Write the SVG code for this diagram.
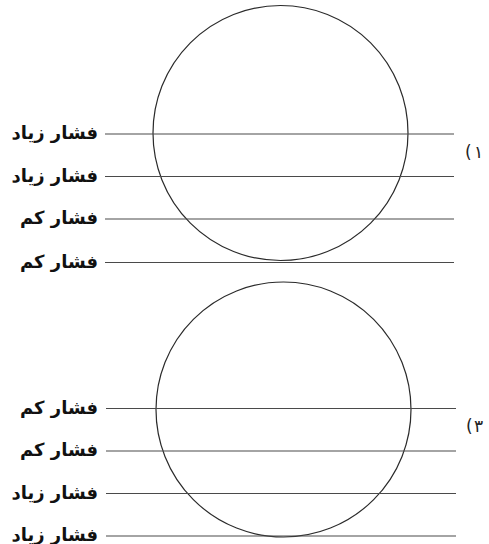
<svg xmlns="http://www.w3.org/2000/svg" width="489" height="544" viewBox="0 0 489 544">
<style>
.c{fill:none;stroke:#2a2a2a;stroke-width:1.2}
.l{stroke:#4a4a4a;stroke-width:1.2}
.t{font-family:"DejaVu Sans",sans-serif;font-weight:bold;font-size:18px;fill:#111}
.n{font-family:"DejaVu Sans",sans-serif;font-size:17px;fill:#222}
</style>
<rect width="489" height="544" fill="#fff"/>
<g id="diagram1">
<circle class="c" cx="280.5" cy="133" r="127.5"/>
<g id="lines1">
<line class="l" x1="105" y1="134" x2="454" y2="134"/>
<line class="l" x1="105" y1="176.5" x2="454" y2="176.5"/>
<line class="l" x1="105" y1="219" x2="454" y2="219"/>
<line class="l" x1="105" y1="262.5" x2="454" y2="262.5"/>
</g>
<g id="labels1">
<text class="t" x="98" y="139" text-anchor="end">فشار زیاد</text>
<text class="t" x="98" y="181.5" text-anchor="end">فشار زیاد</text>
<text class="t" x="98" y="224" text-anchor="end">فشار کم</text>
<text class="t" x="98" y="267.5" text-anchor="end">فشار کم</text>
</g>
<g id="num1">
<text class="n" x="465" y="158">(</text>
<text class="n" x="474" y="158">۱</text>
</g>
</g>
<g id="diagram2">
<circle class="c" cx="283.5" cy="409.5" r="127.5"/>
<g id="lines2">
<line class="l" x1="106" y1="408.5" x2="456" y2="408.5"/>
<line class="l" x1="106" y1="451" x2="456" y2="451"/>
<line class="l" x1="106" y1="493.5" x2="456" y2="493.5"/>
<line class="l" x1="106" y1="536" x2="456" y2="536"/>
</g>
<g id="labels2">
<text class="t" x="98" y="413.5" text-anchor="end">فشار کم</text>
<text class="t" x="98" y="456" text-anchor="end">فشار کم</text>
<text class="t" x="98" y="498.5" text-anchor="end">فشار زیاد</text>
<text class="t" x="98" y="541" text-anchor="end">فشار زیاد</text>
</g>
<g id="num3">
<text class="n" x="466" y="432">(</text>
<text class="n" x="474" y="432">۳</text>
</g>
</g>
</svg>
